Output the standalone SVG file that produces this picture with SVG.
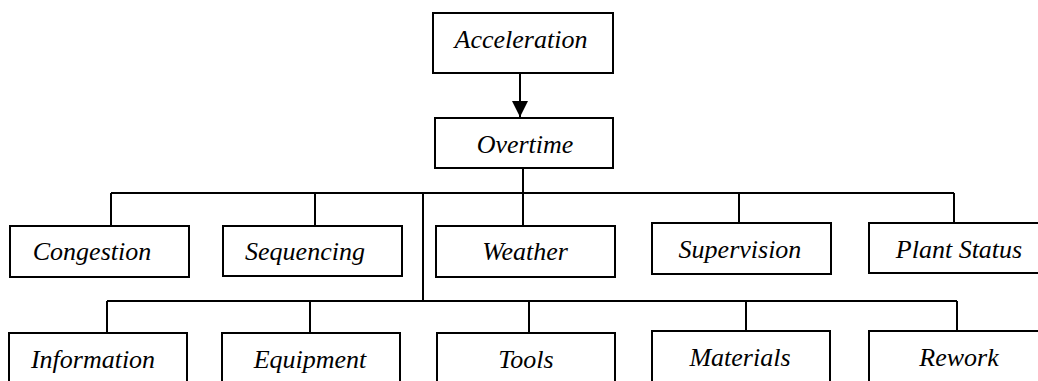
<svg xmlns="http://www.w3.org/2000/svg" width="1038" height="381" viewBox="0 0 1038 381">
<style>
.box{fill:#fff;stroke:#000;stroke-width:2}
.lbl{font-family:'Liberation Serif','Times New Roman',serif;font-style:italic;font-size:26px;fill:#000;text-anchor:middle}
.ln{stroke:#000;stroke-width:2;fill:none}
</style>
<defs>
<marker id="ah" markerUnits="userSpaceOnUse" markerWidth="16" markerHeight="17" refX="16" refY="8" orient="auto">
<path d="M0,0 L16,8 L0,16 Z" fill="#000"/>
</marker>
</defs>
<rect width="1038" height="381" fill="#fff"/>
<g id="connectors">
<line class="ln" x1="520" y1="73" x2="520" y2="117" marker-end="url(#ah)"/>
<line class="ln" x1="523" y1="168" x2="523" y2="226"/>
<line class="ln" x1="111" y1="193" x2="954" y2="193"/>
<line class="ln" x1="111" y1="193" x2="111" y2="226"/>
<line class="ln" x1="315" y1="193" x2="315" y2="226"/>
<line class="ln" x1="739" y1="193" x2="739" y2="223"/>
<line class="ln" x1="954" y1="193" x2="954" y2="223"/>
<line class="ln" x1="423" y1="193" x2="423" y2="301"/>
<line class="ln" x1="107" y1="301" x2="957" y2="301"/>
<line class="ln" x1="107" y1="301" x2="107" y2="333"/>
<line class="ln" x1="310" y1="301" x2="310" y2="333"/>
<line class="ln" x1="529" y1="301" x2="529" y2="333"/>
<line class="ln" x1="746" y1="301" x2="746" y2="331"/>
<line class="ln" x1="957" y1="301" x2="957" y2="331"/>
</g>
<g id="acceleration"><rect class="box" x="433" y="13" width="180" height="60"/><text class="lbl" x="521" y="48">Acceleration</text></g>
<g id="overtime"><rect class="box" x="435" y="118" width="178" height="50"/><text class="lbl" x="525" y="153">Overtime</text></g>
<g id="congestion"><rect class="box" x="10" y="226" width="179" height="51"/><text class="lbl" x="92" y="260">Congestion</text></g>
<g id="sequencing"><rect class="box" x="223" y="226" width="179" height="50"/><text class="lbl" x="305" y="260">Sequencing</text></g>
<g id="weather"><rect class="box" x="436" y="226" width="179" height="51"/><text class="lbl" x="525" y="260">Weather</text></g>
<g id="supervision"><rect class="box" x="652" y="223" width="179" height="51"/><text class="lbl" x="740" y="258">Supervision</text></g>
<g id="plant-status"><rect class="box" x="869" y="223" width="190" height="50"/><text class="lbl" x="959" y="258">Plant Status</text></g>
<g id="information"><rect class="box" x="9" y="333" width="178" height="70"/><text class="lbl" x="93" y="368">Information</text></g>
<g id="equipment"><rect class="box" x="222" y="333" width="178" height="70"/><text class="lbl" x="310" y="368">Equipment</text></g>
<g id="tools"><rect class="box" x="437" y="333" width="178" height="70"/><text class="lbl" x="526" y="368">Tools</text></g>
<g id="materials"><rect class="box" x="652" y="331" width="178" height="72"/><text class="lbl" x="740" y="366">Materials</text></g>
<g id="rework"><rect class="box" x="869" y="331" width="190" height="72"/><text class="lbl" x="959" y="366">Rework</text></g>
</svg>
